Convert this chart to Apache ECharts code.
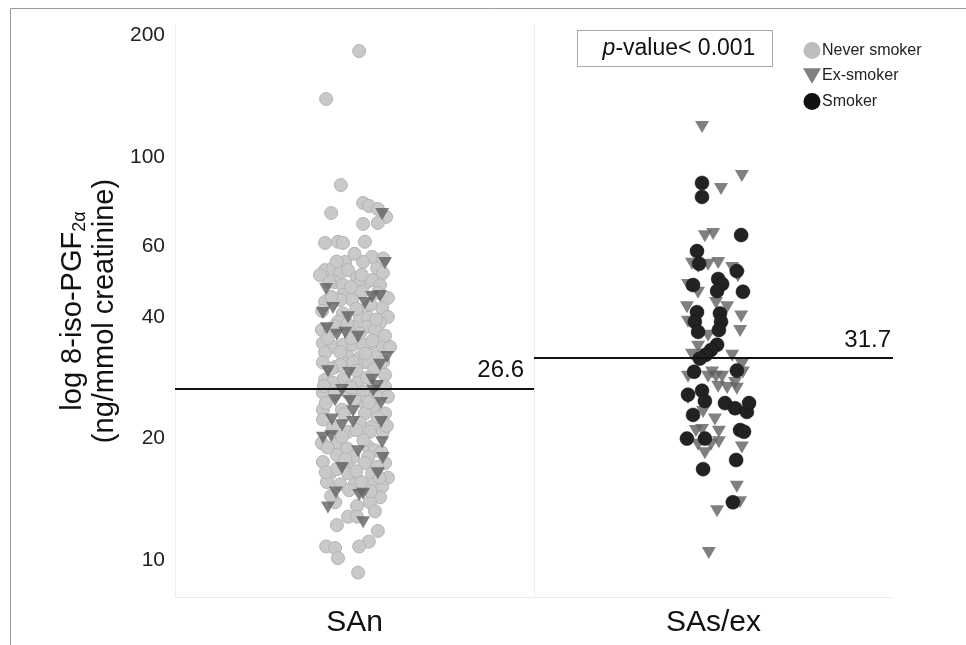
<!DOCTYPE html>
<html>
<head>
<meta charset="utf-8">
<script src="https://cdn.jsdelivr.net/npm/echarts@6/dist/echarts.min.js"></script>
<style>
  html, body { margin: 0; padding: 0; background: #fff; }
  #main { width: 966px; height: 645px; }
</style>
</head>
<body>
<div id="main"></div>
<script>
// groups on the x axis and the mean line of each group
var categories = ['SAn', 'SAs/ex'];
var meanValues = [26.6, 31.7];
var yTicks = [10, 20, 40, 60, 100, 200];
var seriesNames = ['Never smoker', 'Ex-smoker', 'Smoker'];

// points: [jitter offset inside the group, 8-iso-PGF2a value]
var sanNever = [
  [1.3, 183.2], [-7.9, 139.3], [-3.8, 85.2], [-6.5, 72.6], [2.4, 76.9], [4.0, 75.6], [6.5, 74.3],
  [8.8, 71.0], [2.4, 68.2], [6.5, 68.6], [-8.2, 61.2], [-4.6, 61.6], [-3.2, 61.2], [2.9, 61.6],
  [4.9, 56.5], [2.4, 54.9], [-2.6, 54.9], [-8.2, 52.4], [-6.0, 53.0], [-4.0, 51.5], [-1.8, 52.4],
  [6.3, 53.0], [7.9, 51.5], [0.7, 50.1], [3.5, 48.9], [4.9, 49.5], [-9.6, 50.9], [-5.4, 48.9],
  [-3.2, 48.1], [1.0, 48.1], [7.1, 48.1], [-3.2, 45.5], [-0.7, 44.2], [-4.0, 44.2], [2.1, 46.3],
  [9.3, 44.7], [-8.2, 43.7], [7.7, 42.2], [9.3, 40.1], [7.1, 38.8], [2.9, 41.7], [1.5, 40.1],
  [3.8, 39.9], [-3.2, 40.9], [-4.6, 39.0], [-0.4, 37.9], [3.5, 37.9], [5.7, 37.2], [-9.1, 37.2],
  [-6.8, 37.2], [4.9, 34.5], [7.9, 33.8], [9.9, 33.8], [-8.8, 34.5], [-6.0, 33.8], [-3.2, 34.2],
  [-0.4, 34.2], [2.4, 34.2], [-8.2, 32.7], [-1.8, 31.9], [1.5, 31.8], [5.7, 31.9], [-3.2, 30.9],
  [-0.4, 30.9], [2.9, 31.0], [-8.8, 30.9], [-5.4, 30.1], [-4.0, 30.5], [3.8, 31.0], [8.5, 28.8],
  [-8.2, 28.0], [-6.0, 27.5], [0.7, 27.5], [2.4, 26.1], [8.5, 26.9], [-8.8, 26.0], [-2.1, 26.1],
  [9.3, 25.4], [2.4, 24.7], [5.2, 23.9], [-8.8, 23.6], [-3.5, 23.6], [2.9, 23.1], [8.5, 23.1],
  [-8.8, 22.3], [1.5, 21.9], [4.9, 21.4], [-1.8, 20.8], [4.3, 20.8], [7.9, 20.8], [-9.1, 19.5],
  [-4.6, 19.5], [-2.1, 18.9], [3.8, 19.1], [5.7, 18.7], [-4.9, 18.2], [-0.4, 18.0], [3.8, 18.0],
  [-8.8, 17.5], [-2.1, 17.2], [2.9, 17.4], [8.5, 17.4], [-6.8, 16.4], [-1.8, 16.4], [4.9, 16.4],
  [9.3, 16.0], [-7.7, 15.6], [-4.0, 15.4], [5.2, 15.4], [7.7, 15.2], [0.1, 15.4], [7.1, 14.3],
  [-5.4, 13.9], [4.3, 13.9], [0.7, 13.6], [5.7, 13.2], [-1.8, 12.8], [0.7, 12.8], [-4.9, 12.2],
  [6.5, 11.8], [4.0, 11.1], [1.3, 10.8], [-7.9, 10.8], [-5.4, 10.7], [-4.6, 10.1], [1.0, 9.3],
  [-5.0, 55.0], [0.0, 57.5], [8.0, 56.0], [-7.0, 49.0], [2.0, 51.0], [6.5, 46.0], [-1.0, 47.5],
  [-6.5, 45.0], [4.5, 43.0], [-9.0, 41.5], [0.5, 42.0], [-2.0, 38.5], [6.0, 39.5], [-5.5, 38.0],
  [1.5, 36.5], [8.5, 36.0], [-7.5, 35.5], [-1.0, 35.5], [5.0, 35.0], [-4.0, 32.8], [3.0, 32.5],
  [8.0, 31.0], [-6.5, 29.8], [0.5, 29.5], [5.5, 29.8], [-3.0, 28.2], [3.5, 28.3], [-8.5, 27.0],
  [-1.0, 26.8], [6.0, 25.5], [-5.5, 25.8], [0.0, 25.0], [-8.0, 24.5], [4.0, 24.6], [-3.0, 23.0],
  [6.5, 22.6], [-6.0, 21.3], [0.5, 21.0], [9.0, 21.5], [-3.5, 20.2], [2.5, 19.8], [-7.5, 19.0],
  [7.5, 18.5], [-2.5, 17.8], [0.5, 16.6], [-5.0, 16.8], [7.0, 16.0], [-8.0, 16.5], [2.0, 15.6],
  [-1.5, 14.9], [4.5, 14.8], [-6.5, 14.4], [6.3, 17.0]
];
var sanEx = [
  [7.7, 72.2], [8.5, 54.6], [-7.9, 47.0], [4.9, 44.9], [7.1, 45.2], [2.9, 43.4], [-8.8, 41.0],
  [-6.0, 42.2], [-7.7, 37.6], [-1.8, 40.0], [-4.9, 36.2], [-2.6, 36.6], [1.0, 35.8], [9.1, 31.9],
  [7.1, 30.5], [-7.4, 29.4], [-1.5, 29.1], [4.9, 28.0], [6.3, 27.0], [5.2, 26.3], [-3.5, 26.4],
  [-5.4, 24.9], [-1.3, 24.8], [-0.4, 23.4], [7.4, 24.5], [-6.3, 22.3], [-3.5, 21.6], [-0.4, 22.0],
  [7.4, 22.0], [-8.8, 20.1], [-6.5, 20.3], [7.7, 19.6], [1.0, 18.6], [7.9, 17.9], [-3.5, 16.9],
  [6.5, 16.4], [-5.2, 14.7], [1.3, 14.5], [2.4, 14.6], [-7.4, 13.5], [2.4, 12.4]
];
var sasEx = [
  [-3.2, 118.7], [7.9, 89.7], [2.1, 83.3], [-2.4, 63.6], [-0.1, 64.4], [-6.0, 54.3], [-4.3, 53.3],
  [-1.5, 54.0], [1.3, 54.6], [5.2, 53.0], [6.8, 50.6], [-7.1, 48.1], [-4.3, 46.0], [-7.4, 42.4],
  [0.7, 43.4], [3.8, 42.4], [7.7, 40.2], [-7.1, 39.0], [7.4, 37.0], [-1.5, 36.0], [-4.3, 33.8],
  [-6.0, 32.3], [-2.4, 32.3], [5.2, 32.1], [7.9, 30.5], [8.2, 29.2], [-7.1, 28.5], [-1.5, 28.5],
  [-0.4, 29.2], [0.7, 28.5], [2.4, 28.5], [1.3, 26.9], [3.8, 26.7], [6.0, 27.5], [6.5, 26.6],
  [-7.1, 25.2], [-2.9, 23.3], [0.4, 22.3], [-4.9, 20.9], [-3.2, 21.0], [1.5, 20.8], [-4.3, 19.3],
  [-0.7, 19.3], [1.5, 19.6], [-2.4, 18.4], [7.9, 19.0], [6.5, 15.2], [7.4, 13.9], [1.0, 13.2],
  [-1.3, 10.4]
];
var sasSmoker = [
  [-3.2, 86.2], [-3.2, 79.6], [7.7, 64.0], [-4.6, 58.4], [-4.0, 54.3], [6.5, 52.1], [1.3, 49.8],
  [2.4, 48.4], [-5.7, 48.1], [1.0, 46.5], [8.2, 46.3], [-4.6, 41.2], [1.8, 40.9], [-5.2, 39.0],
  [2.1, 39.0], [-4.3, 36.8], [1.5, 37.2], [1.0, 34.2], [-0.7, 33.2], [-2.1, 32.3], [-3.8, 31.6],
  [-5.4, 29.3], [6.5, 29.5], [-7.1, 25.7], [-3.2, 26.3], [-2.4, 24.8], [3.2, 24.5], [6.0, 23.8],
  [9.3, 23.3], [9.9, 24.5], [-5.7, 22.9], [7.4, 21.0], [8.5, 20.8], [-7.4, 20.0], [-2.4, 20.0],
  [6.3, 17.7], [-2.9, 16.8], [5.4, 13.9]
];

var myChart = echarts.init(document.getElementById('main'));

function place(points, groupIndex) {
  var center = groupIndex * 100 + 50;
  return points.map(function (p) { return [center + p[0], p[1]]; });
}

var font = "'Liberation Sans', Arial, sans-serif";
var triangle = 'path://M0,0L20,0L10,17Z';

var option = {
  backgroundColor: '#fff',
  textStyle: { fontFamily: font },
  grid: { left: 175, right: 73, top: 25, bottom: 48 },
  legend: {
    orient: 'vertical',
    left: 798,
    top: 37,
    itemWidth: 18,
    itemHeight: 17,
    itemGap: 9,
    textStyle: { fontSize: 16, color: '#222', fontFamily: font, padding: [0, 0, 0, -4] },
    data: [
      { name: seriesNames[0], icon: 'circle', itemStyle: { color: '#bdbdbd', borderWidth: 0, opacity: 1 } },
      { name: seriesNames[1], icon: triangle, itemStyle: { color: '#808080', borderWidth: 0, opacity: 1 } },
      { name: seriesNames[2], icon: 'circle', itemStyle: { color: '#111', borderWidth: 0, opacity: 1 } }
    ]
  },
  xAxis: {
    type: 'value',
    min: 0,
    max: 200,
    axisLine: { show: true, lineStyle: { color: '#ececec' } },
    axisTick: { show: false },
    splitLine: { show: false },
    axisLabel: {
      customValues: [50, 150],
      formatter: function (v) { return categories[Math.round((v - 50) / 100)]; },
      fontSize: 30,
      color: '#111',
      margin: 11,
      fontFamily: font
    }
  },
  yAxis: {
    type: 'log',
    logBase: 10,
    min: 8.09,
    max: 212.6,
    name: '{a|log 8-iso-PGF}{s|2α}\n{a|(ng/mmol creatinine)}',
    nameLocation: 'middle',
    nameRotate: 90,
    nameGap: 49,
    nameTextStyle: {
      rich: {
        a: { fontSize: 29, color: '#111', lineHeight: 32, fontFamily: font },
        s: { fontSize: 18, color: '#111', lineHeight: 32, verticalAlign: 'bottom', fontFamily: font }
      }
    },
    axisLine: { show: true, lineStyle: { color: '#ececec' } },
    axisTick: { show: false },
    splitLine: { show: false },
    axisLabel: {
      customValues: yTicks,
      fontSize: 21,
      color: '#222',
      margin: 10,
      fontFamily: font
    }
  },
  graphic: [
    {
      type: 'rect',
      shape: { x: 10.5, y: 8.5, width: 1000, height: 700 },
      style: { fill: 'none', stroke: '#9a9a9a', lineWidth: 1 },
      silent: true
    },
    {
      type: 'rect',
      shape: { x: 577.5, y: 30.5, width: 195, height: 36 },
      style: { fill: '#fff', stroke: '#555', lineWidth: 1, lineDash: [1, 1] },
      silent: true
    },
    {
      type: 'text',
      x: 679,
      y: 49,
      style: {
        text: '{i|p}-value< 0.001',
        align: 'center',
        verticalAlign: 'middle',
        fontSize: 23,
        fill: '#111',
        fontFamily: font,
        rich: { i: { fontStyle: 'italic', fontSize: 23, fontFamily: font, fill: '#111' } }
      },
      silent: true
    }
  ],
  series: [
    {
      name: 'lines',
      type: 'scatter',
      data: [],
      z: 1,
      silent: true,
      markLine: {
        silent: true,
        symbol: ['none', 'none'],
        animation: false,
        data: [
          [{ coord: [100, 8.09], lineStyle: { color: '#ececec', width: 1 }, label: { show: false } },
           { coord: [100, 212.6] }],
          [{ coord: [0, meanValues[0]], label: { show: true, formatter: String(meanValues[0]), distance: [10, 6] } },
           { coord: [100, meanValues[0]] }],
          [{ coord: [100, meanValues[1]], label: { show: true, formatter: String(meanValues[1]), distance: [2, 6] } },
           { coord: [200, meanValues[1]] }]
        ],
        lineStyle: { color: '#111', width: 2, type: 'solid' },
        label: { position: 'insideEndTop', fontSize: 24, color: '#111', fontFamily: font }
      }
    },
    {
      name: seriesNames[0],
      type: 'scatter',
      z: 2,
      symbol: 'circle',
      symbolSize: 13,
      itemStyle: { color: '#c9c9c9', borderColor: '#b4b4b4', borderWidth: 1, opacity: 1 },
      data: place(sanNever, 0)
    },
    {
      name: seriesNames[1],
      type: 'scatter',
      z: 3,
      symbol: triangle,
      symbolSize: [14, 12],
      itemStyle: { color: '#606060', opacity: 0.8 },
      data: place(sanEx, 0).concat(place(sasEx, 1))
    },
    {
      name: seriesNames[2],
      type: 'scatter',
      z: 4,
      symbol: 'circle',
      symbolSize: 14,
      itemStyle: { color: '#222', borderColor: '#111', borderWidth: 0.5, opacity: 1 },
      data: place(sasSmoker, 1)
    }
  ]
};

myChart.setOption(option);
</script>
</body>
</html>
